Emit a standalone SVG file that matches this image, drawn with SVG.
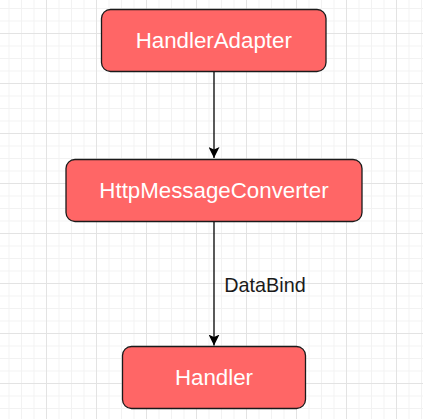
<svg xmlns="http://www.w3.org/2000/svg" width="423" height="419" viewBox="0 0 423 419">
  <defs>
    <pattern id="minor" width="12.5" height="12.5" patternUnits="userSpaceOnUse" x="8.5" y="8">
      <path d="M0 0.5 H12.5 M0.5 0 V12.5" fill="none" stroke="#f2f2f2" stroke-width="1"/>
    </pattern>
    <pattern id="major" width="50" height="50" patternUnits="userSpaceOnUse" x="46" y="33">
      <path d="M0 0.5 H50 M0.5 0 V50" fill="none" stroke="#e3e3e3" stroke-width="1"/>
    </pattern>
    <marker id="arrow" markerWidth="11" markerHeight="11" viewBox="0 0 11 11" refX="11" refY="5.5" orient="auto" markerUnits="userSpaceOnUse">
      <path d="M0 0 L11 5.5 L0 11 L2.5 5.5 Z" fill="#000"/>
    </marker>
  </defs>
  <style>
    .node rect { fill: #FF6666; stroke: #1a1a1a; stroke-width: 1.3; }
    .node text { fill: #ffffff; font-family: "Liberation Sans", Arial, sans-serif; font-size: 22.3px; text-anchor: middle; }
    .edge { fill: none; stroke: #000; stroke-width: 1.3; }
    .label { fill: #1a1a1a; font-family: "Liberation Sans", Arial, sans-serif; font-size: 19.8px; }
  </style>
  <rect width="423" height="419" fill="#ffffff"/>
  <rect width="423" height="419" fill="url(#minor)"/>
  <rect width="423" height="419" fill="url(#major)"/>

  <g id="connectors">
    <path class="edge" d="M214 71.5 V158" marker-end="url(#arrow)"/>
    <path class="edge" d="M214 221.5 V345.5" marker-end="url(#arrow)"/>
    <text class="label" x="224.3" y="291.7">DataBind</text>
  </g>

  <g id="handlerAdapter" class="node">
    <rect x="101.5" y="9.5" width="224.5" height="62" rx="9" ry="9"/>
    <text x="213.75" y="48.3">HandlerAdapter</text>
  </g>
  <g id="httpMessageConverter" class="node">
    <rect x="66" y="159.5" width="296" height="62" rx="9" ry="9"/>
    <text x="214" y="197.8">HttpMessageConverter</text>
  </g>
  <g id="handler" class="node">
    <rect x="122.5" y="346.5" width="183" height="62" rx="9" ry="9"/>
    <text x="214" y="385.3">Handler</text>
  </g>
</svg>
